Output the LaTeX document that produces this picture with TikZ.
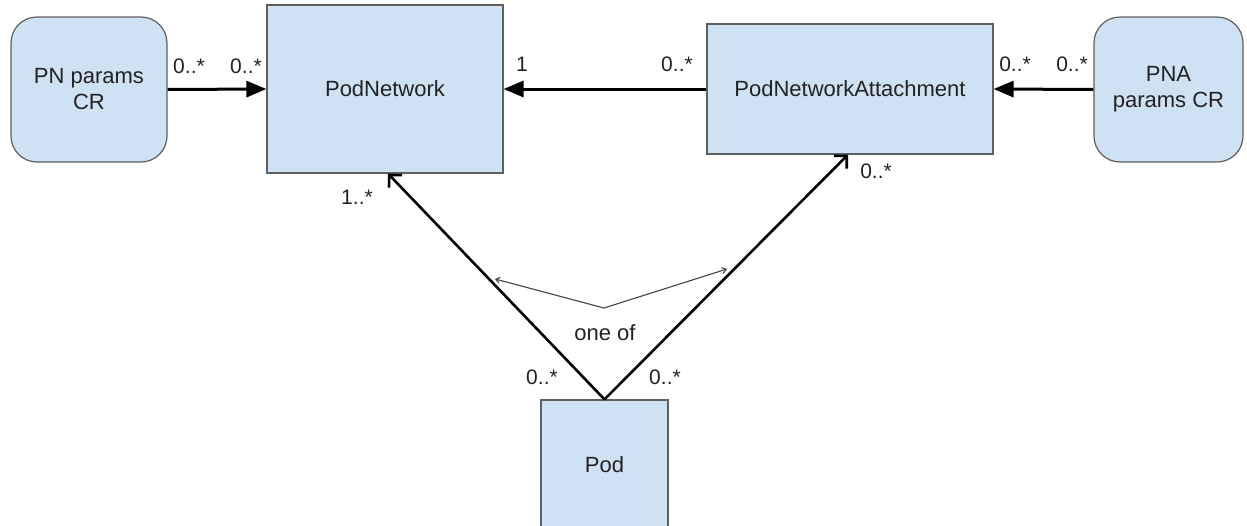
\documentclass[tikz,border=0pt]{standalone}
\usepackage{fontspec}
\setmainfont{Liberation Sans}
\usetikzlibrary{arrows.meta,calc}
\definecolor{boxfill}{HTML}{CFE2F3}
\definecolor{boxline}{HTML}{5F5F5F}
\definecolor{txt}{HTML}{222222}
\begin{document}
\begin{tikzpicture}[x=1pt,y=-1pt,
  every node/.style={font=\fontsize{22}{26}\selectfont, text=txt},
  cls/.style={draw=boxline, line width=1.2pt, fill=boxfill, inner sep=0pt, align=center},
  crbox/.style={cls, rounded corners=26pt},
  assoc/.style={line width=3pt, -{Triangle[length=20pt,width=16pt]}},
  nav/.style={line width=2.6pt, -{Straight Barb[length=9pt,width=18pt,line width=2.6pt]}},
  choice/.style={line width=1.1pt, draw=txt!85, {Straight Barb[length=4pt,width=6pt]}-{Straight Barb[length=4pt,width=6pt]}},
  mult/.style={inner sep=0pt, font=\fontsize{21}{25}\selectfont}
]
\useasboundingbox (0,0) rectangle (1247,525);

\node[crbox, minimum width=156pt, minimum height=145pt] (pncr) at (89,89.5) {PN params\\CR};
\node[cls, minimum width=236pt, minimum height=168pt] (pn) at (385,89) {PodNetwork};
\node[cls, minimum width=286pt, minimum height=130pt] (pna) at (850,89) {PodNetworkAttachment};
\node[crbox, minimum width=149pt, minimum height=145pt] (pnacr) at (1168.5,89.5) {PNA\\params CR};
\node[cls, minimum width=127pt, minimum height=130pt] (pod) at (604.5,465) {Pod};

\draw[assoc] (pncr.east) -- (pn.west);
\draw[assoc] (pna.west) -- (pn.east);
\draw[assoc] (pnacr.west) -- (pna.east);
\draw[nav] (pod.north) -- ([xshift=3pt]pn.south);
\draw[nav] (pod.north) -- ([xshift=-2pt]pna.south);

\coordinate (c1) at (495,279);
\coordinate (c2) at (604,308);
\coordinate (c3) at (727,269);
\draw[choice] (c1) -- (c2) -- (c3);
\node (oneof) at (605,333) {one of};

\node[mult] (m1) at (189,66) {0..*};
\node[mult] (m2) at (246,66) {0..*};
\node[mult] (m3) at (522,64) {1};
\node[mult] (m4) at (677,64) {0..*};
\node[mult] (m5) at (1015,64) {0..*};
\node[mult] (m6) at (1072,64) {0..*};
\node[mult] (m7) at (357,197) {1..*};
\node[mult] (m8) at (876,171) {0..*};
\node[mult] (m9) at (542,377) {0..*};
\node[mult] (m10) at (665,377) {0..*};
\end{tikzpicture}
\end{document}
